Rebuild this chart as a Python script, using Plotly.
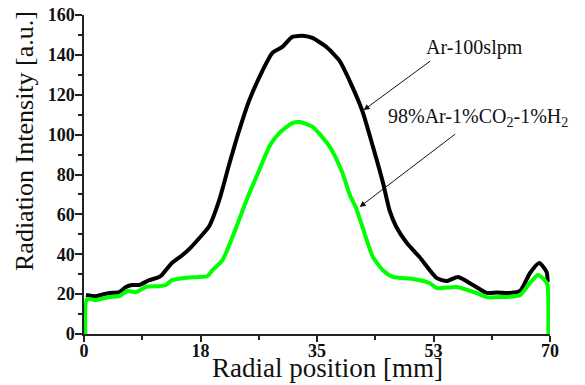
import plotly.graph_objects as go

# ---- data ----
x_ar = [0.3, 1.8, 3.8, 5.3, 6.3, 7.2, 8.3, 9.8, 11.3, 11.7, 13.2, 14.8, 16.1, 17.3,
        18.8, 20.3, 21.8, 23.3, 24.8, 26.8, 28.3, 29.8, 31.3, 33.1, 34.3, 36.4,
        38.4, 39.9, 41.8, 43.4, 44.9, 45.9, 46.9, 48.5, 50.4, 53.0, 54.5, 56.2,
        58.4, 60.5, 62.0, 64.0, 65.5, 67.0, 68.4, 69.5, 69.65]
y_ar = [19.6, 19.0, 20.6, 21.0, 23.6, 24.6, 24.6, 27.0, 28.6, 29.6, 35.6, 39.6, 43.6, 48.0,
        54.0, 67.0, 85.0, 102.0, 117.0, 132.0, 141.0, 144.0, 149.0, 149.5, 148.5, 144.0,
        137.0, 127.0, 112.0, 94.0, 76.0, 62.0, 53.8, 45.6, 38.6, 28.0, 26.6, 28.6,
        24.6, 20.6, 20.8, 20.6, 21.6, 30.6, 35.6, 31.0, 26.0]

x_mix = [0.2, 0.45, 1.8, 3.8, 5.3, 6.5, 7.8, 9.3, 11.3, 12.3, 13.2, 14.8, 17.3, 18.5,
         19.3, 20.8, 22.3, 24.4, 26.3, 28.0, 29.4, 31.3, 32.4, 34.3, 36.9, 38.8,
         39.9, 40.9, 41.8, 43.4, 44.9, 46.4, 49.4, 51.9, 53.0, 56.0, 59.0, 60.5,
         62.5, 65.5, 67.0, 68.2, 69.2, 69.6, 69.75]
y_mix = [0.0, 17.5, 17.0, 18.6, 19.0, 21.6, 21.0, 23.6, 24.0, 24.6, 27.0, 28.0, 28.6, 29.0,
         32.0, 37.0, 48.6, 67.0, 82.0, 95.0, 101.0, 105.8, 106.3, 104.0, 94.0, 81.0,
         70.0, 63.0, 54.0, 38.6, 32.0, 28.6, 27.6, 25.6, 23.0, 23.6, 20.5, 18.5,
         18.5, 19.5, 25.6, 29.6, 27.0, 25.0, 0.0]

x_tickvals = [0, 17.5, 35, 52.5, 70]
x_ticktext = ["0", "18", "35", "53", "70"]
y_tickvals = [0, 20, 40, 60, 80, 100, 120, 140, 160]

label_ar = "Ar-100slpm"
label_mix = "98%Ar-1%CO<sub>2</sub>-1%H<sub>2</sub>"
x_title = "Radial position [mm]"
y_title = "Radiation Intensity [a.u.]"

FONT = "Liberation Serif, Times New Roman, serif"

fig = go.Figure()
fig.add_trace(go.Scatter(x=x_ar, y=y_ar, mode="lines",
                         line=dict(color="#000000", width=4, shape="spline", smoothing=0.6),
                         name=label_ar))
fig.add_trace(go.Scatter(x=x_mix, y=y_mix, mode="lines",
                         line=dict(color="#00ff00", width=4, shape="spline", smoothing=0.6),
                         name=label_mix))

axis_common = dict(showgrid=False, zeroline=False, showline=True, linecolor="#222",
                   linewidth=1.5, ticks="outside", tickcolor="#222", tickwidth=1.5,
                   automargin=False, ticklabeloverflow="allow",
                   tickfont=dict(family=FONT, size=18, color="#111", weight="bold"))

fig.update_xaxes(range=[0, 70], tickmode="array", tickvals=x_tickvals, ticktext=x_ticktext,
                 ticklen=6, ticklabelstandoff=-6,
                 minor=dict(ticks="outside", dtick=8.75, tick0=0, ticklen=4,
                            tickcolor="#222", tickwidth=1.5),
                 **axis_common)
fig.update_yaxes(range=[0, 160], tickmode="array", tickvals=y_tickvals,
                 ticklen=7, ticklabelstandoff=-3,
                 minor=dict(ticks="outside", dtick=10, tick0=0, ticklen=4,
                            tickcolor="#222", tickwidth=1.5),
                 **axis_common)

# page body has an 8px default margin: plot area wanted at page px x 84..550, y 15..334
OFF = 8
W, H = 585 - OFF, 385 - OFF
L, T = 84 - OFF, 15 - OFF
R = W - (550 - OFF)
B = H - (334 - OFF)
pw, ph = 550 - 84, 334 - 15

anns = [
    dict(x=42.0, y=112.3, xref="x", yref="y", ax=68, ay=-50, text="",
         showarrow=True, arrowhead=2, arrowsize=1.2, arrowwidth=1, arrowcolor="#111"),
    dict(x=41.4, y=63.7, xref="x", yref="y", ax=97, ay=-74, text="",
         showarrow=True, arrowhead=2, arrowsize=1.2, arrowwidth=1, arrowcolor="#111"),
    dict(x=58.7, y=143.9, xref="x", yref="y", text=label_ar, showarrow=False,
         xanchor="center", yanchor="middle", font=dict(family=FONT, size=20, color="#111")),
    dict(x=59.2, y=108.8, xref="x", yref="y", text=label_mix, showarrow=False,
         xanchor="center", yanchor="middle", font=dict(family=FONT, size=20, color="#111")),
    dict(x=(327 - 84) / pw, y=(334 - 368) / ph, xref="paper", yref="paper", text=x_title,
         showarrow=False, xanchor="center", yanchor="middle",
         font=dict(family=FONT, size=27, color="#111")),
    dict(x=(24 - 84) / pw, y=(334 - 141) / ph, xref="paper", yref="paper", text=y_title,
         showarrow=False, textangle=-90, xanchor="center", yanchor="middle",
         font=dict(family=FONT, size=26, color="#111")),
]

fig.update_layout(template="none", width=W, height=H, autosize=False,
                  margin=dict(l=L, r=R, t=T, b=B),
                  paper_bgcolor="white", plot_bgcolor="white",
                  showlegend=False, annotations=anns)

fig.write_html("out.html")
